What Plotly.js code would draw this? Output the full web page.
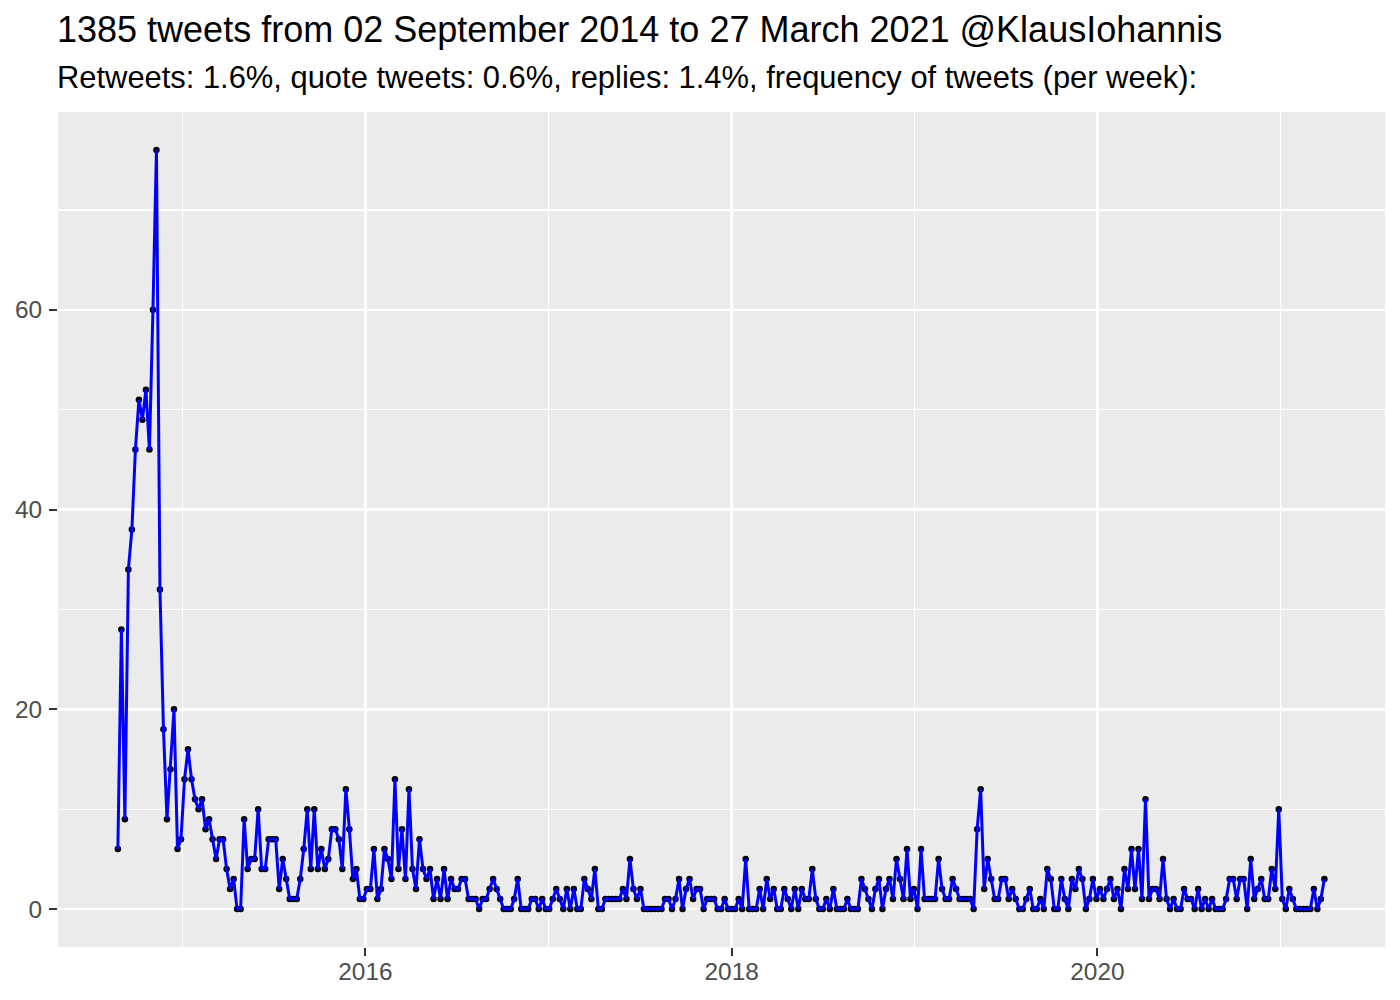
<!DOCTYPE html>
<html>
<head>
<meta charset="utf-8">
<script src="https://cdn.plot.ly/plotly-3.0.1.min.js"></script>
<style>
html, body { margin: 0; padding: 0; background: #ffffff; }
#chart { width: 1400px; height: 1000px; }
</style>
</head>
<body>
<div id="chart"></div>
<script>
// ---- data ----
const firstWeek = '2014-08-25';
const tweetsPerWeek = [
  6, 28, 9, 34, 38, 46, 51, 49, 52, 46, 60, 76, 32,
  18, 9, 14, 20, 6, 7, 13, 16, 13, 11, 10, 11, 8, 9, 7, 5, 7, 7, 4, 2,
  3, 0, 0, 9, 4, 5, 5, 10, 4, 4, 7, 7, 7, 2, 5, 3, 1, 1, 1, 3,
  6, 10, 4, 10, 4, 6, 4, 5, 8, 8, 7, 4, 12, 8, 3, 4, 1, 1, 2, 2,
  6, 1, 2, 6, 5, 3, 13, 4, 8, 3, 12, 4, 2, 7, 4, 3, 4, 1, 3, 1,
  4, 1, 3, 2, 2, 3, 3, 1, 1, 1, 0, 1, 1, 2, 3, 2, 1, 0, 0, 0,
  1, 3, 0, 0, 0, 1, 1, 0, 1, 0, 0, 1, 2, 1, 0, 2, 0, 2, 0, 0,
  3, 2, 1, 4, 0, 0, 1, 1, 1, 1, 1, 2, 1, 5, 2, 1, 2, 0, 0, 0,
  0, 0, 0, 1, 1, 0, 1, 3, 0, 2, 3, 1, 2, 2, 0, 1, 1, 1, 0, 0,
  1, 0, 0, 0, 1, 0, 5, 0, 0, 0, 2, 0, 3, 1, 2, 0, 0, 2, 1, 0,
  2, 0, 2, 1, 1, 4, 1, 0, 0, 1, 0, 2, 0, 0, 0, 1, 0, 0, 0, 3,
  2, 1, 0, 2, 3, 0, 2, 3, 1, 5, 3, 1, 6, 1, 2, 0, 6, 1, 1, 1,
  1, 5, 2, 1, 1, 3, 2, 1, 1, 1, 1, 0, 8, 12, 2, 5, 3, 1, 1, 3,
  3, 1, 2, 1, 0, 0, 1, 2, 0, 0, 1, 0, 4, 3, 0, 0, 3, 1, 0, 3,
  2, 4, 3, 0, 1, 3, 1, 2, 1, 2, 3, 1, 2, 0, 4, 2, 6, 2, 6, 1,
  11, 1, 2, 2, 1, 5, 1, 0, 1, 0, 0, 2, 1, 1, 0, 2, 0, 1, 0, 1,
  0, 0, 0, 1, 3, 3, 1, 3, 3, 0, 5, 1, 2, 3, 1, 1, 4, 2, 10, 1,
  0, 2, 1, 0, 0, 0, 0, 0, 2, 0, 1, 3
];
const xTickVals = ['2016-01-01', '2018-01-01', '2020-01-01'];
const xTickText = ['2016', '2018', '2020'];
const xMinorVals = ['2015-01-01', '2017-01-01', '2019-01-01', '2021-01-01'];
const yTickVals = [0, 20, 40, 60];
const yTickText = ['0', '20', '40', '60'];
const yMinorVals = [10, 30, 50, 70];
const titleText = '1385 tweets from 02 September 2014 to 27 March 2021 @KlausIohannis';
const subtitleText = 'Retweets: 1.6%, quote tweets: 0.6%, replies: 1.4%, frequency of tweets (per week):';

// weekly dates, one per value
const weekDates = tweetsPerWeek.map(function (_, i) {
  const d = new Date(firstWeek + 'T00:00:00Z');
  d.setUTCDate(d.getUTCDate() + 7 * i);
  return d.toISOString().slice(0, 10);
});

const FONT = 'Liberation Sans, Arial, Helvetica, sans-serif';

const traces = [
  {
    type: 'scatter', mode: 'markers', x: weekDates, y: tweetsPerWeek,
    marker: { color: '#000000', size: 6.5 }, hoverinfo: 'x+y', showlegend: false
  },
  {
    type: 'scatter', mode: 'lines', x: weekDates, y: tweetsPerWeek,
    line: { color: '#0000FF', width: 3 }, hoverinfo: 'skip', showlegend: false
  }
];

const layout = {
  width: 1400, height: 1000,
  font: { family: FONT, color: '#000000' },
  paper_bgcolor: '#FFFFFF',
  plot_bgcolor: '#EBEBEB',
  margin: { l: 58, r: 15, t: 112, b: 53, pad: 0 },
  showlegend: false,
  title: {
    text: titleText,
    font: { family: FONT, size: 36, color: '#000000' },
    xref: 'container', x: 57 / 1400, xanchor: 'left',
    yref: 'container', y: 1 - 17 / 1000, yanchor: 'top'
  },
  annotations: [{
    text: subtitleText, showarrow: false,
    xref: 'paper', x: 0, xanchor: 'left', xshift: -3,
    yref: 'paper', y: 1, yanchor: 'bottom', yshift: 15,
    font: { family: FONT, size: 30.9, color: '#000000' }
  }],
  xaxis: {
    type: 'date',
    range: ['2014-04-27 12:00', '2021-07-28'],
    tickmode: 'array', tickvals: xTickVals, ticktext: xTickText,
    ticks: 'outside', ticklen: 8, tickwidth: 2, tickcolor: '#333333',
    tickfont: { family: FONT, size: 24.4, color: '#4D4D4D' },
    ticklabelstandoff: -5,
    showgrid: true, gridcolor: '#FFFFFF', gridwidth: 2.5,
    zeroline: false, showline: false,
    minor: { tickmode: 'array', tickvals: xMinorVals, showgrid: true, gridcolor: '#FFFFFF', gridwidth: 1.3, ticks: '' }
  },
  yaxis: {
    range: [-3.8, 79.8],
    tickmode: 'array', tickvals: yTickVals, ticktext: yTickText,
    ticks: 'outside', ticklen: 8, tickwidth: 2, tickcolor: '#333333',
    tickfont: { family: FONT, size: 24.4, color: '#4D4D4D' },
    ticklabelstandoff: 2,
    showgrid: true, gridcolor: '#FFFFFF', gridwidth: 2.5,
    zeroline: false, showline: false,
    minor: { tickmode: 'array', tickvals: yMinorVals, showgrid: true, gridcolor: '#FFFFFF', gridwidth: 1.3, ticks: '' }
  }
};

Plotly.newPlot('chart', traces, layout, { staticPlot: true, displayModeBar: false });
</script>
</body>
</html>
